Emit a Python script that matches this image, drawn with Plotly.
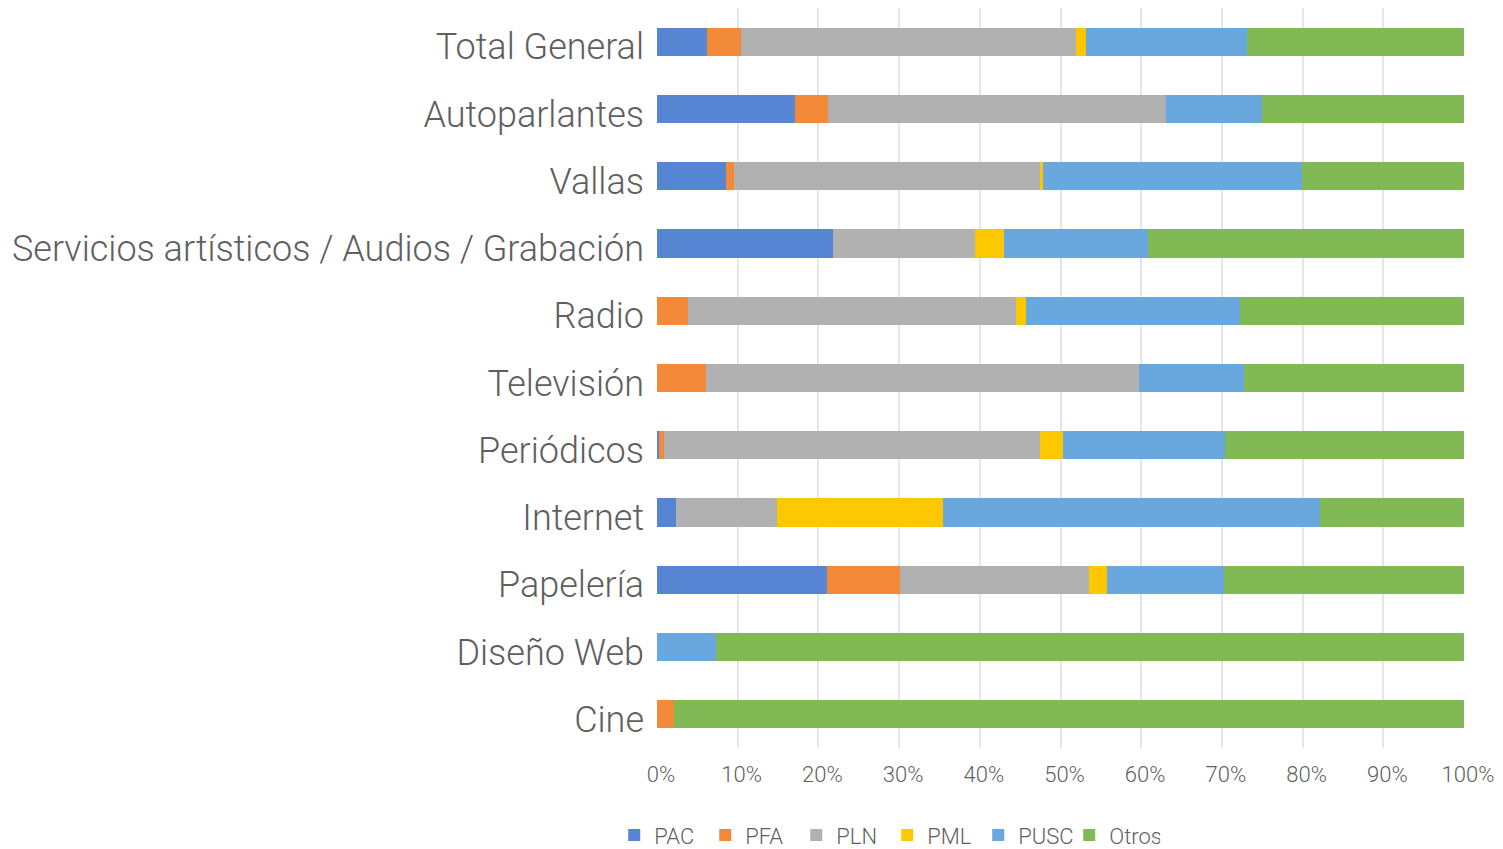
import plotly.graph_objects as go

categories = [
    "Total General", "Autoparlantes", "Vallas",
    "Servicios artísticos / Audios / Grabación", "Radio", "Televisión",
    "Periódicos", "Internet", "Papelería", "Diseño Web", "Cine",
]

pac = [6.2, 17.1, 8.5, 21.8, 0.0, 0.0, 0.3, 2.4, 21.1, 0.0, 0.0]
pfa = [4.2, 4.1, 1.0, 0.0, 3.9, 6.1, 0.6, 0.0, 9.0, 0.0, 2.1]
pln = [41.5, 41.9, 38.0, 17.6, 40.6, 53.6, 46.6, 12.5, 23.4, 0.0, 0.0]
pml = [1.2, 0.0, 0.4, 3.6, 1.2, 0.0, 2.9, 20.6, 2.2, 0.0, 0.0]
pusc = [20.0, 11.9, 32.1, 17.8, 26.5, 13.0, 20.1, 46.7, 14.5, 7.3, 0.0]
otros = [26.9, 25.0, 20.1, 39.2, 27.8, 27.3, 29.6, 17.9, 29.8, 92.7, 97.9]

tick_vals = [0, 10, 20, 30, 40, 50, 60, 70, 80, 90, 100]
tick_text = ["0%", "10%", "20%", "30%", "40%", "50%", "60%", "70%", "80%", "90%", "100%"]

series = [
    ("PAC", pac, "#5585d3"),
    ("PFA", pfa, "#f38a3a"),
    ("PLN", pln, "#b1b1b1"),
    ("PML", pml, "#fdc800"),
    ("PUSC", pusc, "#69a8de"),
    ("Otros", otros, "#81b955"),
]

fig = go.Figure()
for name, values, color in series:
    fig.add_trace(
        go.Bar(
            y=categories,
            x=values,
            name=name,
            orientation="h",
            marker=dict(color=color, line=dict(width=0)),
        )
    )

# the page body adds 8px on the left and top, so margins are offset by that
fig.update_layout(
    barmode="stack",
    barnorm="percent",
    bargap=0.58,
    width=1503,
    height=849,
    margin=dict(l=649, r=47, t=0, b=109, autoexpand=False),
    plot_bgcolor="white",
    paper_bgcolor="white",
    font=dict(family="Roboto, sans-serif", color="#5f5f5f"),
    legend=dict(
        orientation="h",
        traceorder="normal",
        yanchor="middle",
        y=-0.118,
        xanchor="left",
        x=-0.053,
        font=dict(size=22, color="#5f5f5f", weight=300),
        itemwidth=30,
        entrywidth=46,
        entrywidthmode="pixels",
    ),
)

fig.update_xaxes(
    range=[0, 100],
    tickvals=tick_vals,
    ticktext=tick_text,
    tickfont=dict(size=22, color="#5f5f5f", weight=300),
    showgrid=True,
    gridcolor="#e3e6ec",
    gridwidth=2,
    zeroline=False,
    showline=False,
    ticklabelstandoff=11,
    ticklabelshift=4,
)
fig.update_yaxes(
    categoryorder="array",
    categoryarray=categories,
    autorange="reversed",
    tickfont=dict(size=36, color="#5f5f5f", weight=300),
    showgrid=False,
    ticklabelstandoff=12,
    ticklabelshift=-5,
)

fig.write_html("out.html")
